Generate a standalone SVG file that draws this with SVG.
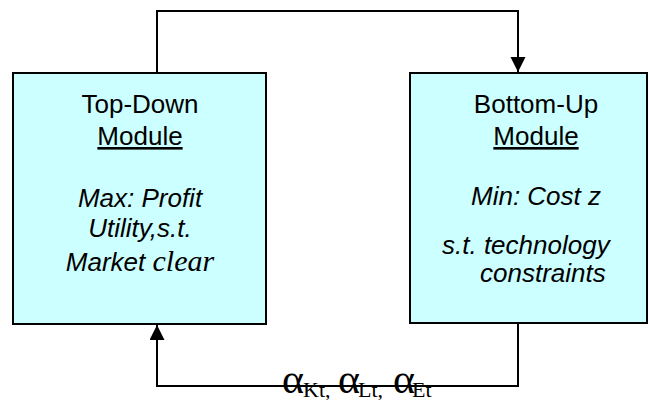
<svg xmlns="http://www.w3.org/2000/svg" width="649" height="400" viewBox="0 0 649 400">
<style>
.box{fill:#CCFFFF;stroke:#000;stroke-width:2}
.t{font-family:"Liberation Sans",Arial,sans-serif;font-size:26px;fill:#000}
.i{font-style:italic}
.c{fill:none;stroke:#000;stroke-width:2}
.g{font-family:"Liberation Serif","Times New Roman",serif;fill:#000}
.a{font-size:42px}
.s{font-size:22px}
</style>
<defs>
<marker id="ah" markerUnits="userSpaceOnUse" markerWidth="16" markerHeight="16" refX="15" refY="7.5" orient="auto">
<path d="M0,0 L15,7.5 L0,15 Z" fill="#000"/>
</marker>
</defs>
<rect width="649" height="400" fill="#fff"/>
<g id="connectors">
<path class="c" d="M157,73 V11 H518 V72" marker-end="url(#ah)"/>
<path class="c" d="M518,323 V386 H157 V325" marker-end="url(#ah)"/>
</g>
<g id="topdown">
<rect class="box" x="13" y="73" width="253" height="251"/>
<text class="t" x="140" y="113" text-anchor="middle">Top-Down</text>
<text class="t" x="140" y="145" text-anchor="middle" text-decoration="underline">Module</text>
<text class="t i" x="140" y="207" text-anchor="middle">Max: Profit</text>
<text class="t i" x="140" y="237" text-anchor="middle">Utility,s.t.</text>
<text class="t i" x="140" y="271" text-anchor="middle">Market <tspan font-family="'Liberation Serif','Times New Roman',serif" font-size="30">clear</tspan></text>
</g>
<g id="bottomup">
<rect class="box" x="410" y="73" width="237" height="250"/>
<text class="t" x="536" y="113" text-anchor="middle">Bottom-Up</text>
<text class="t" x="536" y="145" text-anchor="middle" text-decoration="underline">Module</text>
<text class="t i" x="471" y="205">Min: Cost z</text>
<text class="t i" x="442" y="254">s.t. technology</text>
<text class="t i" x="480" y="282">constraints</text>
</g>
<g id="label">
<text class="g" y="393"><tspan class="a" x="282">α</tspan><tspan class="s" x="303" y="397">Kt,</tspan><tspan class="a" x="338" y="393">α</tspan><tspan class="s" x="358" y="397">Lt,</tspan><tspan class="a" x="393" y="393">α</tspan><tspan class="s" x="412" y="397">Et</tspan></text>
</g>
</svg>
